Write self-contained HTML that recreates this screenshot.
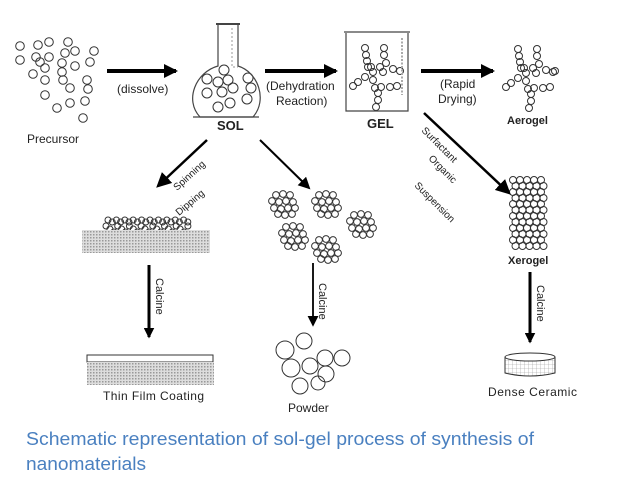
<!DOCTYPE html>
<html><head><meta charset="utf-8"><style>
body{margin:0;background:#fff;width:638px;height:479px;overflow:hidden}
svg{display:block}
text{font-family:"Liberation Sans",Arial,sans-serif;fill:#222}
</style></head><body>
<svg id="s" width="638" height="479" viewBox="0 0 638 479">
<defs>
<pattern id="h" width="3" height="3" patternUnits="userSpaceOnUse"><rect width="3" height="3" fill="#ddd"/><rect width="1.5" height="1.5" fill="#999"/></pattern>
<pattern id="g" width="4" height="4" patternUnits="userSpaceOnUse"><rect width="4" height="4" fill="#fff"/><path d="M0 0H4M0 0V4" stroke="#999" stroke-width="0.6"/></pattern>
<marker id="a" markerWidth="3.5" markerHeight="3.5" refX="3" refY="1.75" orient="auto"><path d="M0,0L3.5,1.75L0,3.5Z" fill="#000"/></marker>
<marker id="b" markerWidth="6" markerHeight="6" refX="5" refY="3" orient="auto"><path d="M0,0L6,3L0,6Z" fill="#000"/></marker>
</defs>
<g id="c" fill="none" stroke="#333" stroke-width="1"></g>
<g stroke="#000" fill="none">
<line x1="107" y1="71" x2="176" y2="71" stroke-width="4" marker-end="url(#a)"/>
<line x1="265" y1="71" x2="336" y2="71" stroke-width="4" marker-end="url(#a)"/>
<line x1="421" y1="71" x2="493" y2="71" stroke-width="4" marker-end="url(#a)"/>
<line x1="207" y1="140" x2="158" y2="186" stroke-width="2.5" marker-end="url(#b)"/>
<line x1="260" y1="140" x2="309" y2="188" stroke-width="2" marker-end="url(#b)"/>
<line x1="424" y1="113" x2="509" y2="193" stroke-width="2.5" marker-end="url(#b)"/>
<line x1="149" y1="265" x2="149" y2="337" stroke-width="3" marker-end="url(#a)"/>
<line x1="313" y1="263" x2="313" y2="325" stroke-width="1.8" marker-end="url(#b)"/>
<line x1="530" y1="272" x2="530" y2="342" stroke-width="3" marker-end="url(#a)"/>
</g>
<g fill="none" stroke="#444" stroke-width="1.2">
<path d="M218 25V66C196 72 184 100 200 117H253C268 100 258 72 238 66V25"/>
<line x1="216" y1="24" x2="240" y2="24" stroke-width="2"/>
<line x1="193" y1="117" x2="259" y2="117"/>
<path d="M344 32H410M346 33V111H408V33"/>
<line x1="402" y1="38" x2="402" y2="95" stroke="#aaa" stroke-dasharray="2 1.5" stroke-width="2"/>
<path d="M232 28V67H238" stroke="#aaa" stroke-dasharray="2 2"/>
</g>
<rect x="82" y="230" width="128" height="23" fill="url(#h)"/>
<rect x="87" y="355" width="126" height="7" fill="#fff" stroke="#333"/>
<rect x="87" y="362" width="127" height="23" fill="url(#h)"/>
<path d="M505 357V373Q530 379 555 373V357" fill="url(#g)" stroke="#333"/>
<ellipse cx="530" cy="357" rx="25" ry="4" fill="#fff" stroke="#333"/>
<g font-size="12">
<text x="27" y="143">Precursor</text>
<text x="117" y="93">(dissolve)</text>
<text x="266" y="90">(Dehydration</text><text x="276" y="105">Reaction)</text>
<text x="440" y="88">(Rapid</text><text x="438" y="103">Drying)</text>
<text x="217" y="130" font-weight="bold" font-size="13">SOL</text>
<text x="367" y="128" font-weight="bold" font-size="13">GEL</text>
<text x="507" y="124" font-weight="bold" font-size="11">Aerogel</text>
<text x="508" y="264" font-weight="bold" font-size="11">Xerogel</text>
<text x="103" y="400" textLength="101">Thin Film Coating</text>
<text x="288" y="412">Powder</text>
<text x="488" y="396" textLength="89">Dense Ceramic</text>
<text transform="translate(177,191) rotate(-42)" font-size="10">Spinning</text>
<text transform="translate(179,216) rotate(-40)" font-size="10">Dipping</text>
<text transform="translate(421,131) rotate(45)" font-size="10">Surfactant</text>
<text transform="translate(428,159) rotate(45)" font-size="10">Organic</text>
<text transform="translate(414,186) rotate(45)" font-size="10">Suspension</text>
<text transform="translate(156,278) rotate(90)" font-size="11">Calcine</text>
<text transform="translate(319,283) rotate(90)" font-size="11">Calcine</text>
<text transform="translate(537,285) rotate(90)" font-size="11">Calcine</text>
</g>
<text x="26" y="445" font-size="18" textLength="508" lengthAdjust="spacingAndGlyphs" style="fill:#4a80c0">Schematic representation of sol-gel process of synthesis of</text>
<text x="26" y="470" font-size="18" textLength="120" lengthAdjust="spacingAndGlyphs" style="fill:#4a80c0">nanomaterials</text>
</svg>
<script>
var g=document.getElementById('c'),ns='http://www.w3.org/2000/svg';
function c(x,y,r){var e=document.createElementNS(ns,'circle');e.setAttribute('cx',x);e.setAttribute('cy',y);e.setAttribute('r',r||4.3);g.appendChild(e);}
[[20,46],[38,45],[49,42],[68,42],[20,60],[36,57],[49,57],[65,53],[75,51],[94,51],[33,74],[45,68],[62,72],[75,66],[90,62],[45,80],[63,80],[70,88],[87,80],[88,89],[45,95],[85,101],[57,108],[70,103],[83,118],[62,63],[40,62]].forEach(p=>c(p[0],p[1]));
[[224,70],[207,79],[218,82],[228,80],[248,78],[207,93],[222,92],[233,88],[251,88],[230,103],[247,99],[218,107]].forEach(p=>c(p[0],p[1],5));
var gel=[[365,48],[366,55],[367,61],[368,67],[384,48],[384,55],[386,63],[380,67],[393,69],[400,71],[373,72],[365,77],[358,82],[353,86],[373,80],[375,88],[381,87],[390,87],[397,86],[378,93],[378,100],[376,107],[383,72],[371,67]];
gel.forEach(p=>c(p[0],p[1],3.5));
gel.forEach(p=>c(p[0]+153,p[1]+1,3.5));c(555,71,3.5);
for(var i=0;i<22;i++)c(106+i*3.9,226+(i%3)*3,3);
for(var i=0;i<20;i++)c(108+i*4.2,220+(i%2)*2,3);
function cl(x,y){[[-6,-8],[1,-9],[8,-8],[-10,-2],[-3,-1],[4,-2],[11,-1],[-8,5],[-1,6],[6,5],[13,5],[-4,11],[3,12],[10,11]].forEach(p=>c(x+p[0],y+p[1],3.4));}
cl(282,203);cl(325,203);cl(360,223);cl(292,235);cl(325,248);
for(var r=0;r<12;r++)for(var k=0;k<5;k++)c(513+k*7+(r%2)*2.5,180+r*6,3.5);
[[285,350,9],[304,341,8],[291,368,9],[310,366,8],[325,358,8],[342,358,8],[326,374,8],[300,386,8],[318,383,7]].forEach(p=>c(p[0],p[1],p[2]));
</script>
</body></html>
